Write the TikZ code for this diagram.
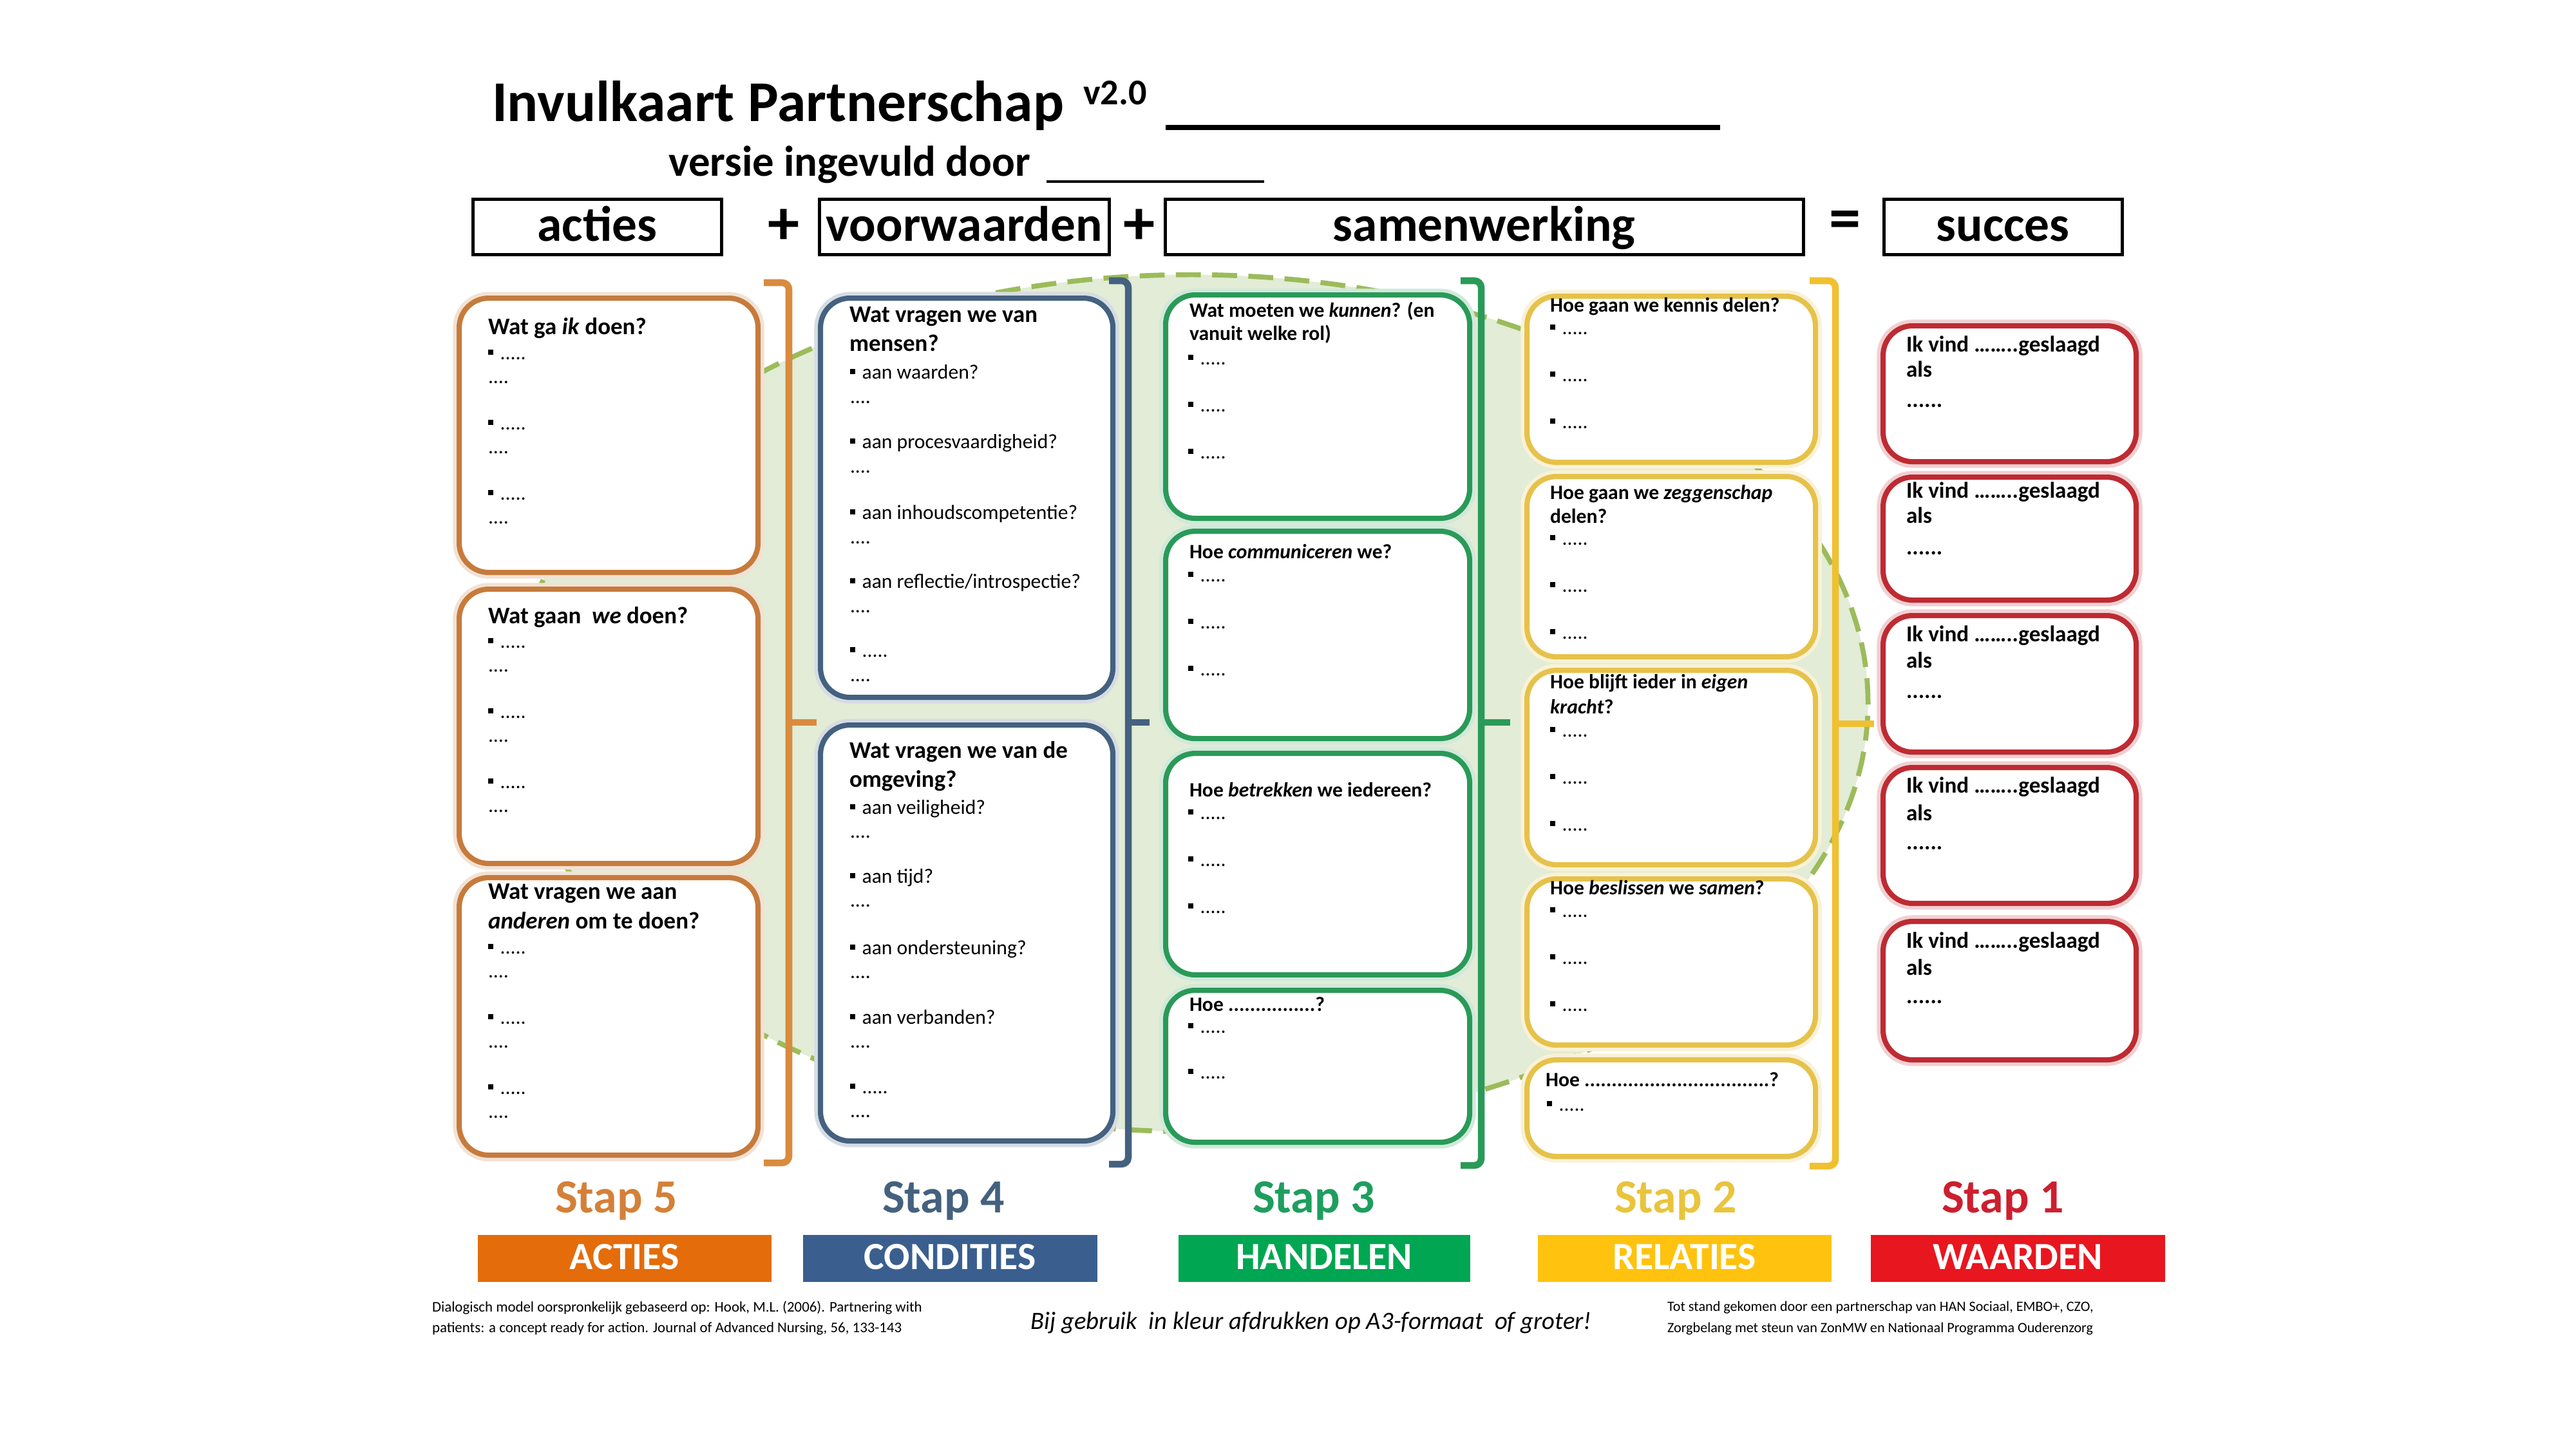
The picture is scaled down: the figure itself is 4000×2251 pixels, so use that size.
\documentclass[tikz,border=0pt]{standalone}
\usepackage{fontspec}
\setmainfont{Carlito}
\definecolor{oLine}{HTML}{C67B3C}
\definecolor{oText}{HTML}{D48038}
\definecolor{oBar}{HTML}{E46C0A}
\definecolor{oBrk}{HTML}{D98B3F}
\definecolor{bLine}{HTML}{44617F}
\definecolor{bBar}{HTML}{3A5F8F}
\definecolor{gLine}{HTML}{2A9A58}
\definecolor{gText}{HTML}{1E9E5E}
\definecolor{gBar}{HTML}{00A651}
\definecolor{yLine}{HTML}{E6C24A}
\definecolor{yText}{HTML}{E9C43C}
\definecolor{yBar}{HTML}{FFC20E}
\definecolor{yBrk}{HTML}{F0C030}
\definecolor{rLine}{HTML}{BE2B32}
\definecolor{rText}{HTML}{CC1F2F}
\definecolor{rBar}{HTML}{E8161F}
\definecolor{ellFill}{HTML}{E2ECD6}
\definecolor{ellLine}{HTML}{9CBB5A}
\newcounter{nn}
\newlength\bwid
\newlength\bhei
\newcommand\bsq{\rule[2pt]{2.3pt}{2.3pt}}
\newcommand\bx[7]{\pgfmathsetlength\bwid{(#5-#3)*0.01cm}\pgfmathsetlength\bhei{(#6-#4)*0.01cm}%
  \node[#1,anchor=north west,minimum width=\bwid,minimum height=\bhei] (#2) at (#3,#4) {#7};}
\newcommand\tx[4][itm]{\stepcounter{nn}\node[#1] (t\arabic{nn}) at (#2,#3) {#4};}
\newcommand\bu[4][itm]{\stepcounter{nn}\node[#1] (t\arabic{nn}) at (#2,#3) {\bsq\hspace{3pt}#4};}
\newcommand\olist[4]{\foreach \k in {1,...,#4}{\pgfmathsetmacro\yy{#2+(\k-1)*#3}\pgfmathsetmacro\yz{\yy+37}\bu{#1}{\yy}{.....}\tx{#1}{\yz}{....}}}
\newcommand\glist[4]{\foreach \k in {1,...,#4}{\pgfmathsetmacro\yy{#2+(\k-1)*#3}\bu{#1}{\yy}{.....}}}
\begin{document}
\begin{tikzpicture}[x=0.01cm,y=-0.01cm,
  tl/.style={anchor=base west,inner sep=0pt,outer sep=0pt},
  ttlA/.style={tl,font=\fontsize{10.5}{12}\selectfont\bfseries},
  ttlB/.style={tl,font=\fontsize{9}{11}\selectfont\bfseries},
  ttlR/.style={tl,font=\fontsize{10}{12}\selectfont\bfseries},
  itm/.style={tl,font=\fontsize{9}{11}\selectfont},
  cbox/.style={draw=#1,line width=2.3pt,fill=white,rounded corners=13pt,inner sep=0pt,preaction={draw=#1!22,line width=5.5pt}},
  hbox/.style={draw=black,line width=1.3pt,fill=white,inner sep=0pt,font=\fontsize{22}{26}\selectfont\bfseries,text height=16.6pt,text depth=4pt},
  bar/.style={fill=#1,inner sep=0pt,text=white,font=\fontsize{17}{20}\selectfont\bfseries,text height=13pt,text depth=3.3pt},
  brk/.style={draw=#1,line width=3pt,rounded corners=3pt},
  stap/.style={anchor=base,inner sep=0pt,text=#1,font=\fontsize{21}{25}\selectfont\bfseries},
  sign/.style={inner sep=0pt,font=\fontsize{28}{30}\selectfont\bfseries},
  footL/.style={tl,font=\fontsize{6.5}{7.5}\selectfont},
  footR/.style={tl,font=\fontsize{6.3}{7.5}\selectfont},
]
\useasboundingbox (0,0) rectangle (4000,2251);
\fill[white] (0,0) rectangle (4000,2251);

% ellipse background
\path[fill=ellFill,draw=ellLine,line width=2.2pt,dash pattern=on 11pt off 5pt] (1850,1092) ellipse [x radius=10.5cm,y radius=6.65cm];

% title
\node[tl,font=\fontsize{25.5}{30}\selectfont\bfseries] (title) at (764,188) {Invulkaart Partnerschap};
\node[tl,font=\fontsize{16}{19}\selectfont\bfseries] (ver) at (1682,162) {v2.0};
\draw[line width=2pt] (1810,198) -- (2671,198);
\node[tl,font=\fontsize{19}{23}\selectfont\bfseries] (door) at (1038,273) {versie ingevuld door};
\draw[line width=1.2pt] (1625,282) -- (1963,282);

% header
\bx{hbox}{hA}{732}{307}{1118}{393}{acties}
\bx{hbox}{hV}{1270}{307}{1720}{393}{voorwaarden}
\bx{hbox}{hS}{1807}{307}{2798}{393}{samenwerking}
\bx{hbox}{hU}{2923}{307}{3293}{393}{succes}
\node[sign] (p1) at (1217,352) {+};
\node[sign] (p2) at (1769,352) {+};
\node[sign] (eq) at (2865,350) {=};

% brackets
\draw[brk=oBrk] (1186,439) -- (1225,439) -- (1225,1806) -- (1186,1806);
\draw[brk=oBrk] (1225,1122) -- (1268,1122);
\draw[brk=bLine] (1722,436) -- (1752,436) -- (1752,1808) -- (1722,1808);
\draw[brk=bLine] (1752,1122) -- (1785,1122);
\draw[brk=gLine] (2268,436) -- (2300,436) -- (2300,1810) -- (2268,1810);
\draw[brk=gLine] (2300,1122) -- (2345,1122);
\draw[brk=yBrk] (2810,436) -- (2850,436) -- (2850,1811) -- (2810,1811);
\draw[brk=yBrk] (2850,1124) -- (2910,1124);

% Stap 5 - orange
\bx{cbox=oLine}{o1}{709}{459}{1173}{885}{}
\bx{cbox=oLine}{o2}{709}{911}{1173}{1337}{}
\bx{cbox=oLine}{o3}{709}{1359}{1173}{1790}{}
\tx[ttlA]{758}{519}{Wat ga \textit{ik} doen?}
\olist{758}{558}{109}{3}
\tx[ttlA]{758}{968}{Wat gaan\ \ \textit{we} doen?}
\olist{758}{1006}{109}{3}
\tx[ttlA]{758}{1396}{Wat vragen we aan}
\tx[ttlA]{758}{1442}{\textit{anderen} om te doen?}
\olist{758}{1481}{109}{3}

% Stap 4 - blue
\bx{cbox=bLine}{b1}{1270}{459}{1724}{1079}{}
\bx{cbox=bLine}{b2}{1270}{1122}{1724}{1768}{}
\tx[ttlA]{1319}{500}{Wat vragen we van}
\tx[ttlA]{1319}{545}{mensen?}
\bu{1320}{588}{aan waarden?}\tx{1320}{626}{....}
\bu{1320}{696}{aan procesvaardigheid?}\tx{1320}{734}{....}
\bu{1320}{806}{aan inhoudscompetentie?}\tx{1320}{844}{....}
\bu{1320}{913}{aan reflectie/introspectie?}\tx{1320}{951}{....}
\bu{1320}{1020}{.....}\tx{1320}{1058}{....}
\tx[ttlA]{1319}{1177}{Wat vragen we van de}
\tx[ttlA]{1319}{1222}{omgeving?}
\bu{1320}{1264}{aan veiligheid?}\tx{1320}{1301}{....}
\bu{1320}{1371}{aan tijd?}\tx{1320}{1408}{....}
\bu{1320}{1482}{aan ondersteuning?}\tx{1320}{1519}{....}
\bu{1320}{1590}{aan verbanden?}\tx{1320}{1627}{....}
\bu{1320}{1698}{.....}\tx{1320}{1735}{....}

% Stap 3 - green
\bx{cbox=gLine}{g1}{1806}{454}{2278}{801}{}
\bx{cbox=gLine}{g2}{1806}{821}{2278}{1143}{}
\bx{cbox=gLine}{g3}{1806}{1166}{2278}{1510}{}
\bx{cbox=gLine}{g4}{1806}{1534}{2278}{1770}{}
\tx[ttlB]{1847}{492}{Wat moeten we \textit{kunnen}? (en}
\tx[ttlB]{1847}{528}{vanuit welke rol)}
\glist{1845}{566}{73}{3}
\tx[ttlB]{1847}{867}{Hoe \textit{communiceren} we?}
\glist{1845}{903}{73}{3}
\tx[ttlB]{1847}{1237}{Hoe \textit{betrekken} we iedereen?}
\glist{1845}{1272}{73}{3}
\tx[ttlB]{1847}{1570}{Hoe ................?}
\glist{1845}{1604}{71}{2}

% Stap 2 - yellow
\bx{cbox=yLine}{y1}{2367}{456}{2815}{714}{}
\bx{cbox=yLine}{y2}{2367}{736}{2815}{1016}{}
\bx{cbox=yLine}{y3}{2367}{1037}{2815}{1339}{}
\bx{cbox=yLine}{y4}{2367}{1361}{2815}{1619}{}
\bx{cbox=yLine}{y5}{2367}{1642}{2815}{1792}{}
\tx[ttlB]{2407}{484}{Hoe gaan we kennis delen?}
\glist{2407}{519}{73}{3}
\tx[ttlB]{2407}{775}{Hoe gaan we \textit{zeggenschap}}
\tx[ttlB]{2407}{812}{delen?}
\glist{2407}{846}{73}{3}
\tx[ttlB]{2407}{1069}{Hoe blijft ieder in \textit{eigen}}
\tx[ttlB]{2407}{1108}{\textit{kracht}?}
\glist{2407}{1144}{73}{3}
\tx[ttlB]{2407}{1389}{Hoe \textit{beslissen} we \textit{samen}?}
\glist{2407}{1424}{73}{3}
\tx[ttlB]{2400}{1687}{Hoe ..................................?}
\glist{2402}{1725}{73}{1}

% Stap 1 - red
\foreach \ya/\yb/\ta/\tb/\tc [count=\i] in {502/713/546/585/632, 737/928/773/812/861, 952/1164/996/1037/1084, 1188/1399/1231/1274/1319, 1427/1642/1472/1514/1558}{
  \bx{cbox=rLine}{r\i}{2920}{\ya}{3313}{\yb}{}
  \tx[ttlR]{2960}{\ta}{Ik vind ……..geslaagd}
  \tx[ttlR]{2960}{\tb}{als}
  \tx[ttlR]{2960}{\tc}{......}
}

% step labels
\node[stap=oText] (s5) at (957,1883) {Stap 5};
\node[stap=bLine] (s4) at (1465,1883) {Stap 4};
\node[stap=gText] (s3) at (2040,1883) {Stap 3};
\node[stap=yText] (s2) at (2602,1883) {Stap 2};
\node[stap=rText] (s1) at (3110,1883) {Stap 1};
\bx{bar=oBar}{k5}{741}{1917}{1197}{1990}{ACTIES}
\bx{bar=bBar}{k4}{1246}{1917}{1703}{1990}{CONDITIES}
\bx{bar=gBar}{k3}{1829}{1917}{2282}{1990}{HANDELEN}
\bx{bar=yBar}{k2}{2387}{1917}{2843}{1990}{RELATIES}
\bx{bar=rBar}{k1}{2904}{1917}{3361}{1990}{WAARDEN}

% footer
\tx[footL]{671}{2037}{Dialogisch model oorspronkelijk gebaseerd op: Hook, M.L. (2006). Partnering with}
\tx[footL]{671}{2069}{patients: a concept ready for action. Journal of Advanced Nursing, 56, 133-143}
\node[anchor=base,inner sep=0pt,font=\fontsize{11}{13}\selectfont\itshape] (fc) at (2036,2064) {Bij gebruik\ \ in kleur afdrukken op A3-formaat\ \ of groter!};
\tx[footR]{2589}{2036}{Tot stand gekomen door een partnerschap van HAN Sociaal, EMBO+, CZO,}
\tx[footR]{2589}{2069}{Zorgbelang met steun van ZonMW en Nationaal Programma Ouderenzorg}
\end{tikzpicture}
\end{document}
